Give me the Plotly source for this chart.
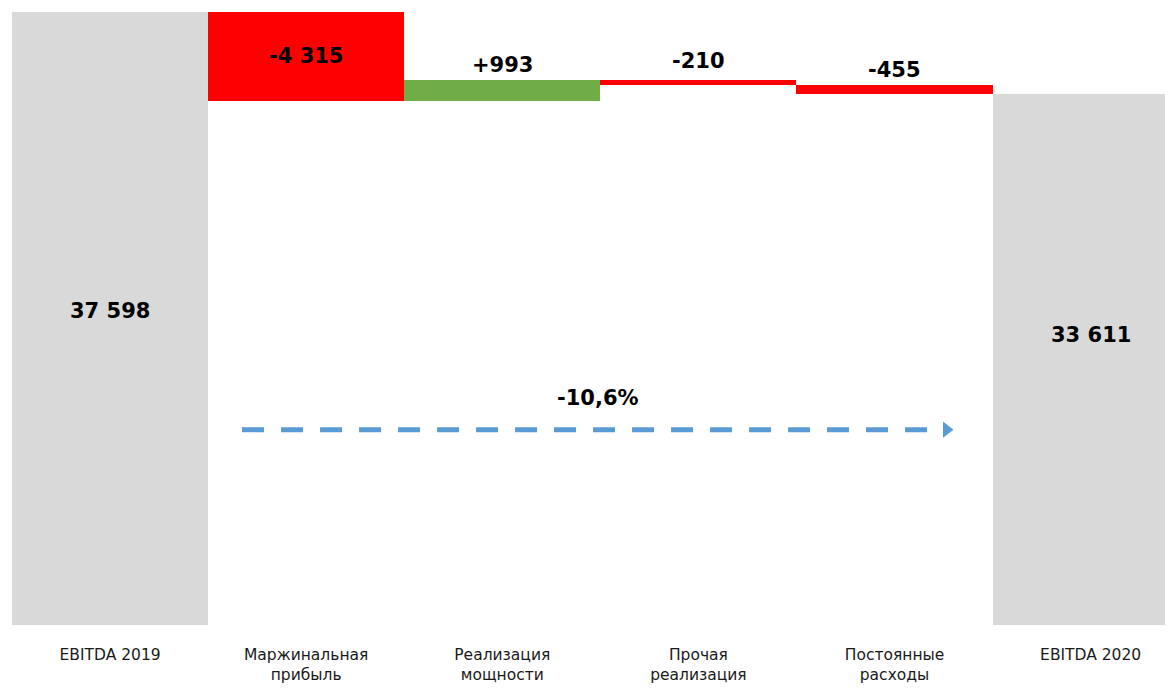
import plotly.graph_objects as go

categories = ["EBITDA 2019", "Маржинальная<br>прибыль", "Реализация<br>мощности",
              "Прочая<br>реализация", "Постоянные<br>расходы", "EBITDA 2020"]
values = [37598, -4315, 993, -210, -455, 33611]
measures = ["absolute", "relative", "relative", "relative", "relative", "total"]

GRAY = "#D9D9D9"
RED = "#FF0000"
GREEN = "#70AD47"
BLUE = "#5B9BD5"

Y_MIN = 7793
Y_MAX = 37598
FONT = "DejaVu Sans"


def fmt(v, sign=False):
    s = f"{abs(v):,}".replace(",", " ")
    if v < 0:
        return "-" + s
    return ("+" + s) if sign else s


fig = go.Figure()
fig.add_trace(go.Waterfall(
    x=list(range(len(categories))),
    y=values,
    measure=measures,
    increasing=dict(marker=dict(color=GREEN)),
    decreasing=dict(marker=dict(color=RED)),
    totals=dict(marker=dict(color=GRAY)),
    connector=dict(visible=False),
    textposition="none",
    hoverinfo="skip",
))

annotations = []
lab_font = dict(family=FONT, size=21, color="black")
# totals
annotations.append(dict(x=0, y=(Y_MIN + values[0]) / 2, text=f"<b>{fmt(values[0])}</b>",
                        showarrow=False, font=lab_font, yshift=8))
annotations.append(dict(x=5, y=(Y_MIN + values[5]) / 2, text=f"<b>{fmt(values[5])}</b>",
                        showarrow=False, font=lab_font, yshift=25))
# deltas
cum = values[0]
shifts = {1: None, 2: 15, 3: 19, 4: 15}
for i in range(1, 5):
    top = max(cum, cum + values[i])
    mid = cum + values[i] / 2
    if shifts[i] is None:
        annotations.append(dict(x=i, y=mid, text=f"<b>{fmt(values[i], True)}</b>",
                                showarrow=False, font=lab_font))
    else:
        annotations.append(dict(x=i, y=top, text=f"<b>{fmt(values[i], True)}</b>",
                                showarrow=False, font=lab_font, yanchor="middle",
                                yshift=shifts[i]))
    cum += values[i]

pct = (values[5] / values[0] - 1) * 100
annotations.append(dict(x=2.488, y=18841, text=f"<b>{pct:.1f}%</b>".replace(".", ","),
                        showarrow=False, font=lab_font))

# dashed arrow
arrow_y = 17289
fig.add_shape(type="line", x0=0.673, x1=4.24, y0=arrow_y, y1=arrow_y,
              line=dict(color=BLUE, width=5, dash="22px,17px"))
fig.add_trace(go.Scatter(x=[4.265], y=[arrow_y], mode="markers",
                         marker=dict(symbol="triangle-right", size=14, color=BLUE),
                         hoverinfo="skip", showlegend=False))

fig.update_layout(
    width=1165, height=680,
    margin=dict(l=4, r=0, t=4, b=63),
    plot_bgcolor="white", paper_bgcolor="white",
    showlegend=False,
    waterfallgap=0,
    annotations=annotations,
    font=dict(family=FONT),
)
fig.update_xaxes(range=[-0.5, 5.42], tickmode="array", tickvals=list(range(6)),
                 ticktext=categories, showgrid=False, zeroline=False, showline=False,
                 ticks="outside", ticklen=15, tickcolor="rgba(0,0,0,0)",
                 tickfont=dict(family=FONT, size=15.5, color="#1a1a1a"))
fig.update_yaxes(range=[Y_MIN, Y_MAX], visible=False, showgrid=False, zeroline=False)

fig.write_html("out.html")
